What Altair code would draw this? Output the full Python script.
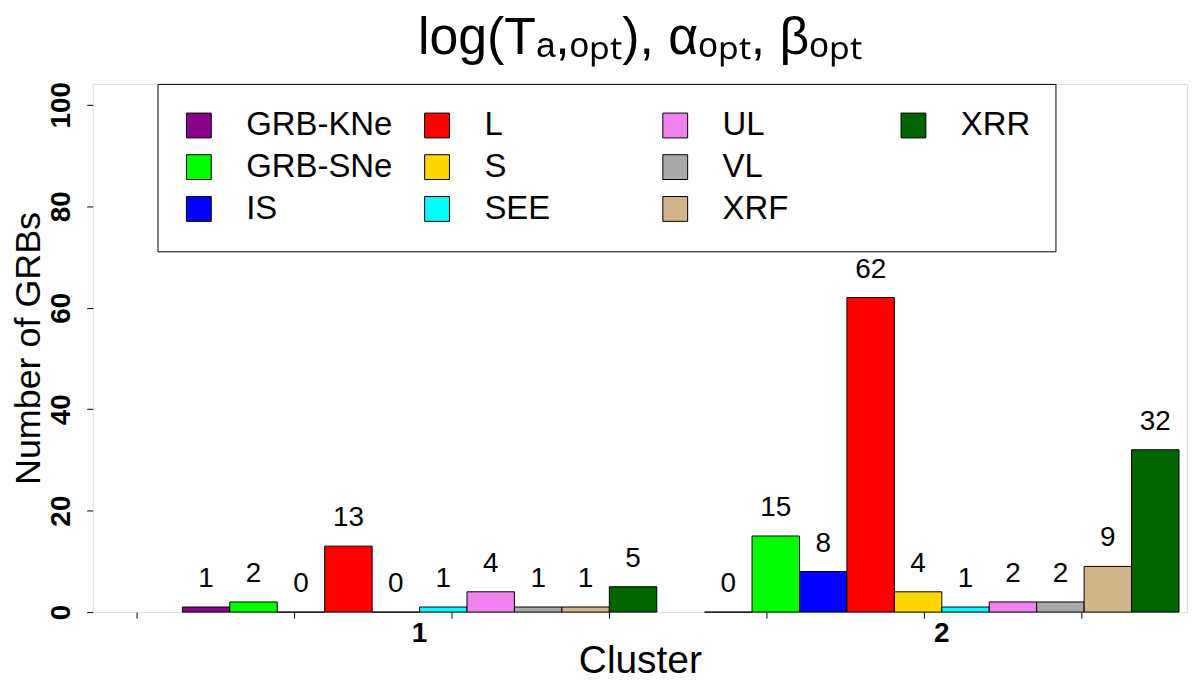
import altair as alt
import pandas as pd

clusters = ["1", "2"]
categories = ["GRB-KNe", "GRB-SNe", "IS", "L", "S", "SEE", "UL", "VL", "XRF", "XRR"]
counts_cluster1 = [1, 2, 0, 13, 0, 1, 4, 1, 1, 5]
counts_cluster2 = [0, 15, 8, 62, 4, 1, 2, 2, 9, 32]
colors = ["#8B008B", "#00FF00", "#0000FF", "#FF0000", "#FFD700",
          "#00FFFF", "#EE82EE", "#A9A9A9", "#D2B48C", "#006400"]
y_ticks = [0, 20, 40, 60, 80, 100]
minor_ticks = [0, 1, 2, 3, 4, 5, 6]

FONT = "Liberation Sans"

rows = []
for c, vals in zip(clusters, [counts_cluster1, counts_cluster2]):
    for cat, v in zip(categories, vals):
        rows.append({"Cluster": c, "Category": cat, "Count": v})
df = pd.DataFrame(rows)

# legend: 3 rows x 4 columns, filled column by column (blank spacer entry)
BLANK = " "
color_of = dict(zip(categories, colors))
grid = [[categories[r + 3 * k] if r + 3 * k < len(categories) else None
         for k in range(4)] for r in range(3)]
legend_order = []
for r, row in enumerate(grid):
    for k, cat in enumerate(row):
        if cat is None:
            if r < 2:
                legend_order.append(BLANK)
        else:
            legend_order.append(cat)
fill_range = [color_of.get(c, "transparent") for c in legend_order]
stroke_range = ["black" if c in color_of else "transparent" for c in legend_order]

legend = alt.Legend(
    title=None, orient="none", legendX=65, legendY=0,
    direction="horizontal", columns=4, gridAlign="all",
    columnPadding=28, rowPadding=8, padding=25,
    strokeColor="black", fillColor="white",
    labelFont=FONT, labelFontSize=33, labelColor="black", labelLimit=400,
    labelOffset=31, symbolType="square", symbolSize=620, symbolStrokeWidth=1,
)

x_enc = alt.X("Cluster:N", sort=clusters, title="Cluster",
              scale=alt.Scale(paddingInner=0.0916, paddingOuter=0.0935, align=0.918),
              axis=alt.Axis(labelAngle=0, ticks=False, tickSize=0, domain=False,
                            labelFont=FONT, labelFontSize=28, labelFontWeight="bold",
                            labelColor="black", labelPadding=8,
                            titleFont=FONT, titleFontSize=39, titleFontWeight="normal",
                            titleColor="black", titlePadding=-6))
xoff_enc = alt.XOffset("Category:N", sort=categories, scale=alt.Scale(paddingInner=0, paddingOuter=0))
y_enc = alt.Y("Count:Q", title="Number of GRBs",
              scale=alt.Scale(domain=[0, 104.1], nice=False, zero=True),
              axis=alt.Axis(values=y_ticks, grid=False, domain=False, tickColor="black",
                            tickSize=6, labelAngle=270, labelFont=FONT, labelFontSize=28,
                            labelFontWeight="bold", labelColor="black", labelPadding=11,
                            titleFont=FONT, titleFontSize=36, titleFontWeight="normal",
                            titleColor="black", titlePadding=0))

base = alt.Chart(df)
bars = base.mark_bar(strokeWidth=1).encode(
    x=x_enc, xOffset=xoff_enc, y=y_enc,
    fill=alt.Fill("Category:N", scale=alt.Scale(domain=legend_order, range=fill_range), legend=legend),
    stroke=alt.Stroke("Category:N", scale=alt.Scale(domain=legend_order, range=stroke_range), legend=legend),
)
labels = base.mark_text(baseline="alphabetic", dy=-20, font=FONT, fontSize=28, color="black").encode(
    x=alt.X("Cluster:N", sort=clusters), xOffset=xoff_enc, y=alt.Y("Count:Q"),
    text=alt.Text("Count:Q"),
)
ticks_layer = alt.Chart(pd.DataFrame({"t": minor_ticks})).mark_point(opacity=0).encode(
    x=alt.X("t:Q", scale=alt.Scale(domain=[-0.278, 6.671], nice=False, zero=False),
            axis=alt.Axis(values=minor_ticks, labels=False, title=None, domain=False,
                          orient="bottom", ticks=True, tickSize=6, tickColor="black", grid=False)),
)

chart = alt.layer(alt.layer(bars, labels), ticks_layer).resolve_scale(x="independent").properties(
    width=1098, height=530,
    autosize=alt.AutoSizeParams(type="none"),
    padding={"left": 85, "top": 75, "right": 5, "bottom": 70},
    title=alt.Title("log(Tₐ,ₒₚₜ), αₒₚₜ, βₒₚₜ", font=FONT, fontSize=52,
                    fontWeight="normal", color="black", anchor="middle", offset=17),
).configure_view(stroke="black", strokeWidth=1.5).configure(background="white")

chart.save("out.html", embed_options={"renderer": "svg", "actions": False})
